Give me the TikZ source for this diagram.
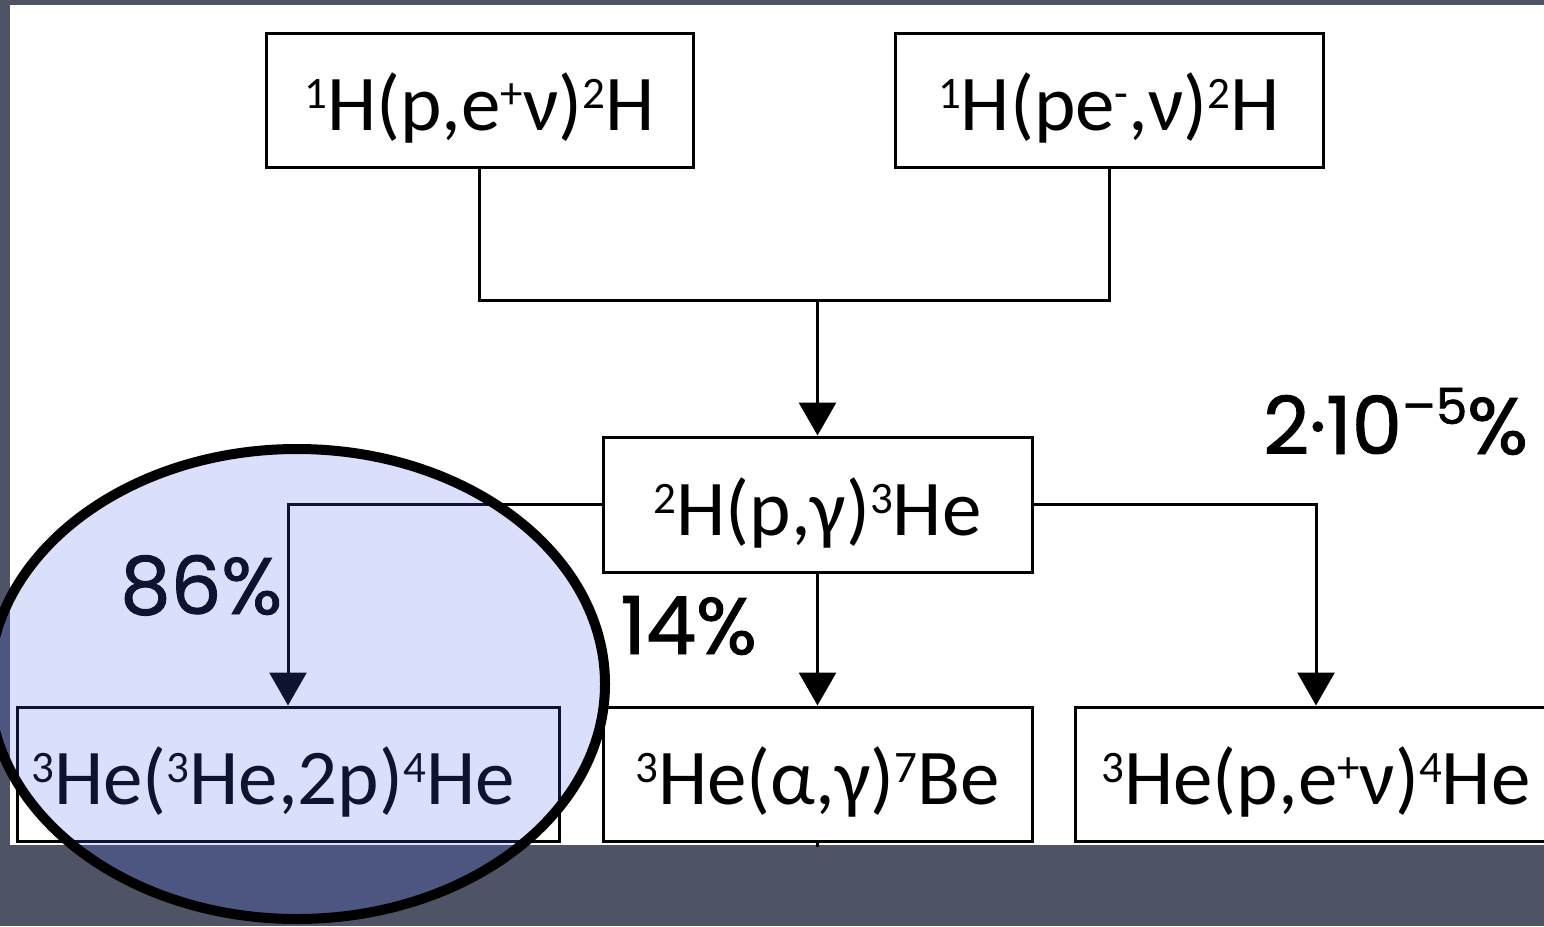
\documentclass[tikz,border=0pt]{standalone}
\usepackage{fontspec}
\setmainfont{Carlito}
\newfontfamily\boxfont{Carlito}
\newfontfamily\handfont{Poppins}[FakeBold=1.2]
\usetikzlibrary{arrows.meta}
\definecolor{slate}{RGB}{78,83,102}
\definecolor{tint}{RGB}{70,100,240}
\newcommand\su[1]{\raisebox{22pt}{\fontsize{45}{45}\selectfont #1}}
\newcommand\hsu[1]{\raisebox{30pt}{\fontsize{50}{50}\selectfont #1}}
\begin{document}
\begin{tikzpicture}[x=1pt,y=-1pt,
  box/.style={draw=black, line width=3pt, fill=white, rectangle, inner sep=0pt,
    minimum height=134pt, text height=70pt, text depth=9pt,
    font=\boxfont\fontsize{79}{96}\selectfont},
  conn/.style={line width=3pt},
  arr/.style={conn, -{Triangle[width=37pt,length=33pt]}},
  pct/.style={font=\handfont\fontsize{80}{90}\selectfont, inner sep=0pt, anchor=base west}]
\useasboundingbox (0,0) rectangle (1544,926);
\fill[slate] (0,0) rectangle (1544,926);
\fill[white] (10,5) rectangle (1544,845);
% boxes
\node[box, minimum width=427pt] (A) at (479.5,100) {\su{1}H(p,e\su{+}ν)\su{2}H};
\node[box, minimum width=428pt] (B) at (1109,100) {\su{1}H(pe\su{-},ν)\su{2}H};
\node[box, minimum width=429pt, minimum height=135pt] (C) at (817.5,504.5) {\su{2}H(p,γ)\su{3}He};
\node[box, minimum width=542pt] (D) at (288,774) {\su{3}He(\su{3}He,2p)\su{4}He\rule{30pt}{0pt}};
\node[box, minimum width=429pt] (E) at (817.5,774) {\su{3}He(α,γ)\su{7}Be};
\node[box, minimum width=482pt] (F) at (1316,774) {\su{3}He(p,e\su{+}ν)\su{4}He};
% connectors
\coordinate (j) at (817.5,300);
\coordinate (stub) at (817.5,847);
\draw[conn] (A.south) -- (A.south |- j) -- (B.south |- j) -- (B.south);
\draw[arr] (j) -- (C.north);
\draw[arr] (C.west) -| (D.north);
\draw[arr] (C.south) -- (E.north);
\draw[arr] (C.east) -| (F.north);
\draw[conn] (E.south) -- (stub);
% percentages
\node[pct] (p86) at (120,614) {86\%};
\node[pct] (p14) at (620,654) {14\%};
\node[pct] (prare) at (1263,454) {2·10\hsu{–5}\%};
% highlight ellipse
\draw[line width=10pt, fill=tint, fill opacity=0.2] (297,684) ellipse [x radius=308, y radius=235];
\end{tikzpicture}
\end{document}
